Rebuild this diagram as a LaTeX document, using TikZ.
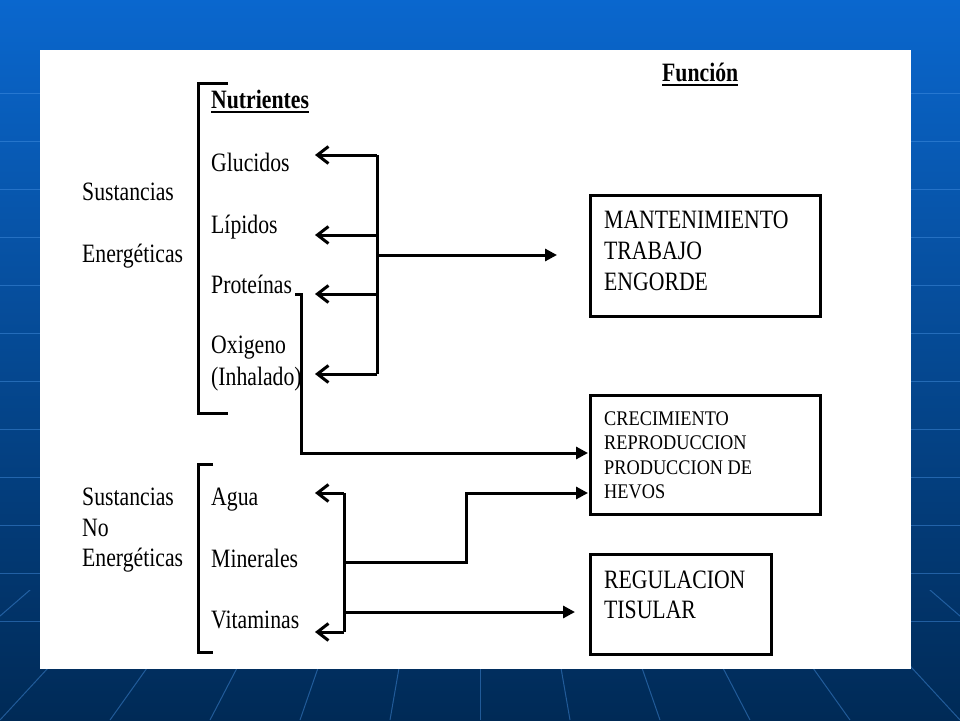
\documentclass[tikz,border=0pt]{standalone}
\usepackage{fontspec}
\setmainfont[FakeStretch=0.82]{Liberation Serif}
\newfontfamily\smallcond[FakeStretch=0.88]{Liberation Serif}
\usetikzlibrary{arrows.meta}
\definecolor{bgtop}{HTML}{0A67CE}
\definecolor{bgbot}{HTML}{002A56}
\definecolor{gridc}{HTML}{4A95E6}
\begin{document}
\begin{tikzpicture}[x=1pt,y=-1pt,
  txt/.style={font=\fontsize{26.5}{28}\selectfont, inner sep=0pt, anchor=base west},
  btxt/.style={txt, font=\fontsize{26.5}{28}\selectfont\bfseries},
  stxt/.style={inner sep=0pt, anchor=base west, font=\smallcond\fontsize{20.8}{22}\selectfont},
  ln/.style={line width=3pt, line join=miter},
  openarr/.style={ln, -{Straight Barb[length=11pt,width=17pt]}},
  fillarr/.style={ln, -{Triangle[length=12pt,width=12pt]}},
  boxst/.style={draw, line width=3pt, inner sep=0pt, anchor=north west},
  uline/.style={line width=2pt}
]
\useasboundingbox (0,0) rectangle (960,720);
% background
\shade[top color=bgtop, bottom color=bgbot] (0,0) rectangle (960,720);
\foreach \yy in {93,141,189,237,285,333,381,429,477,525,573,621}
  \draw[gridc, opacity=0.45, line width=1pt] (0,\yy) -- (960,\yy);
\begin{scope}
  \clip (0,590) rectangle (960,720);
  \foreach \xx in {-260,-120,0,110,210,300,390,480,570,660,750,850,960,1080,1220}
    \draw[gridc, opacity=0.45, line width=1pt] (480,200) -- (\xx,720);
\end{scope}
% white panel
\fill[white] (40,50) rectangle (911,669);

% header
\node[btxt] (fun) at (662,81) {Función};
\draw[uline] ([yshift=-4pt]fun.base west) -- ([yshift=-4pt]fun.base east);
\node[btxt] (nut) at (211,108) {Nutrientes};
\draw[uline] ([yshift=-4pt]nut.base west) -- ([yshift=-4pt]nut.base east);

% left labels
\node[txt] (se1) at (82,200) {Sustancias};
\node[txt] (se2) at (82,262) {Energéticas};
\node[txt] (sn1) at (82,505) {Sustancias};
\node[txt] (sn2) at (82,536) {No};
\node[txt] (sn3) at (82,566) {Energéticas};

% nutrients
\node[txt] (glu) at (211,171) {Glucidos};
\node[txt] (lip) at (211,233) {Lípidos};
\node[txt] (pro) at (211,293) {Proteínas};
\node[txt] (oxi) at (211,353) {Oxigeno};
\node[txt] (inh) at (211,385) {(Inhalado)};
\node[txt] (agu) at (211,505) {Agua};
\node[txt] (min) at (211,567) {Minerales};
\node[txt] (vit) at (211,628) {Vitaminas};

% brackets
\draw[ln] (228,83) -- (198,83) -- (198,413) -- (228,413);
\draw[ln] (213,464) -- (198,464) -- (198,652) -- (213,652);

% boxes
\node[boxst, minimum width=230pt, minimum height=121pt] (b1) at (589,194) {};
\node[txt] (t11) at (604,228) {MANTENIMIENTO};
\node[txt] (t12) at (604,259) {TRABAJO};
\node[txt] (t13) at (604,290) {ENGORDE};

\node[boxst, minimum width=230pt, minimum height=119pt] (b2) at (589,394) {};
\node[stxt] (t21) at (604,425) {CRECIMIENTO};
\node[stxt] (t22) at (604,449) {REPRODUCCION};
\node[stxt] (t23) at (604,474) {PRODUCCION DE};
\node[stxt] (t24) at (604,498) {HEVOS};

\node[boxst, minimum width=181pt, minimum height=100pt] (b3) at (589,553) {};
\node[txt] (t31) at (604,588) {REGULACION};
\node[txt] (t32) at (604,618) {TISULAR};

% upper bus
\coordinate (ub1) at (377,155);
\coordinate (ub2) at (377,235);
\coordinate (ub3) at (377,294);
\coordinate (ub4) at (377,374);
\coordinate (ubm) at (377,255);
\coordinate (aglu) at (315,155);
\coordinate (alip) at (315,235);
\coordinate (apro) at (315,294);
\coordinate (aoxi) at (315,374);
\coordinate (am1) at (557,255);
\draw[ln] (ub1) -- (ub4);
\draw[openarr] (ub1) -- (aglu);
\draw[openarr] (ub2) -- (alip);
\draw[openarr] (ub3) -- (apro);
\draw[openarr] (ub4) -- (aoxi);
\draw[fillarr] (ubm) -- (am1);

% proteinas to crecimiento
\coordinate (ps) at (295,294);
\coordinate (pc) at (301,294);
\coordinate (pd) at (301,453);
\coordinate (pe) at (588,453);
\draw[fillarr] (ps) -- (pc) -- (pd) -- (pe);

% lower bus
\coordinate (lb1) at (344,493);
\coordinate (lb2) at (344,632);
\coordinate (lbm) at (344,562);
\coordinate (lbv) at (344,612);
\coordinate (aagu) at (315,493);
\coordinate (avit) at (315,632);
\coordinate (mk1) at (466,562);
\coordinate (mk2) at (466,493);
\coordinate (me) at (588,493);
\coordinate (ve) at (575,612);
\draw[ln] (lb1) -- (lb2);
\draw[openarr] (lb1) -- (aagu);
\draw[openarr] (lb2) -- (avit);
\draw[fillarr] (lbm) -- (mk1) -- (mk2) -- (me);
\draw[fillarr] (lbv) -- (ve);
\end{tikzpicture}
\end{document}
